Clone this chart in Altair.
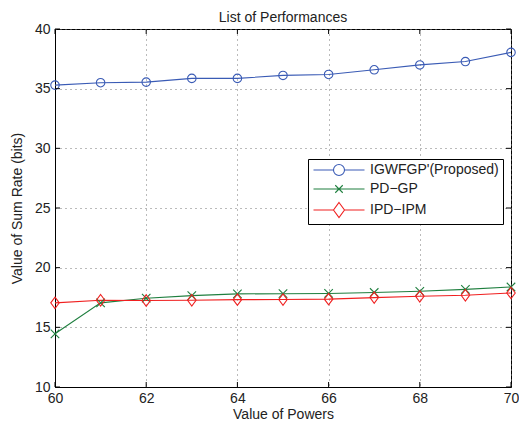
import altair as alt
import pandas as pd

powers = [60, 61, 62, 63, 64, 65, 66, 67, 68, 69, 70]
igwfgp = [35.30, 35.50, 35.55, 35.86, 35.86, 36.11, 36.19, 36.58, 36.99, 37.27, 38.04]
pdgp = [14.46, 17.05, 17.44, 17.66, 17.80, 17.82, 17.84, 17.92, 18.02, 18.18, 18.38]
ipdipm = [17.05, 17.27, 17.25, 17.27, 17.32, 17.33, 17.36, 17.49, 17.60, 17.69, 17.88]

series_names = ["IGWFGP'(Proposed)", "PD\u2212GP", "IPD\u2212IPM"]
series_colors = ["#3a5bb5", "#1f7f3f", "#f02020"]
x_ticks = [60, 62, 64, 66, 68, 70]
y_ticks = [10, 15, 20, 25, 30, 35, 40]

rows = []
for name, vals in zip(series_names, [igwfgp, pdgp, ipdipm]):
    for p, v in zip(powers, vals):
        rows.append({"series": name, "power": p, "rate": v})
df = pd.DataFrame(rows)

W, H = 456, 358
FONT = "Liberation Sans"

marker_paths = [
    "circle",
    "M-1,-1L1,1M-1,1L1,-1",
    "M0,-1.35L1,0L0,1.35L-1,0Z",
]
legend_paths = [
    "M-5.1,0L-1.1,0M1.1,0L5.1,0M1.1,0A1.1,1.1,0,1,1,-1.1,0A1.1,1.1,0,1,1,1.1,0",
    "M-5.1,0L5.1,0M-0.75,-0.75L0.75,0.75M-0.75,0.75L0.75,-0.75",
    "M-5.1,0L-1.1,0M1.1,0L5.1,0M0,-1.5L1.1,0L0,1.5L-1.1,0Z",
]

xscale = alt.Scale(domain=[60, 70], nice=False)
yscale = alt.Scale(domain=[10, 40], nice=False)
cscale = alt.Scale(domain=series_names, range=series_colors)

xax = alt.Axis(values=x_ticks, title="Value of Powers", grid=True, gridDash=[1, 4],
               gridColor="#777", tickSize=0, labelPadding=4, labelFlush=False,
               labelOverlap=False, titleY=31, titleBaseline="alphabetic",
               domainColor="black")
yax = alt.Axis(values=y_ticks, title="Value of Sum Rate (bits)", grid=True, gridDash=[1, 4],
               gridColor="#777", tickSize=0, labelPadding=5, titlePadding=10,
               labelFlush=False, labelOverlap=False, domainColor="black")

base = alt.Chart(df)

lines = base.mark_line(strokeWidth=1.1).encode(
    x=alt.X("power:Q", scale=xscale, axis=xax),
    y=alt.Y("rate:Q", scale=yscale, axis=yax),
    color=alt.Color("series:N", scale=cscale, legend=None),
    detail="series:N",
)

points = base.mark_point(filled=False, strokeWidth=1.1, size=72, opacity=1).encode(
    x=alt.X("power:Q", scale=xscale),
    y=alt.Y("rate:Q", scale=yscale),
    color=alt.Color("series:N", scale=cscale, legend=None),
    shape=alt.Shape("series:N", scale=alt.Scale(domain=series_names, range=marker_paths), legend=None),
)

legend_layer = base.transform_filter("false").mark_point(filled=False, strokeWidth=1.1, size=64, opacity=1).encode(
    x=alt.X("power:Q", scale=xscale),
    y=alt.Y("rate:Q", scale=yscale),
    color=alt.Color("series:N", scale=alt.Scale(domain=series_names, range=series_colors),
                    legend=alt.Legend(title=None, orient="none", legendX=253, legendY=130)),
    shape=alt.Shape("series:N", scale=alt.Scale(domain=series_names, range=legend_paths),
                    legend=alt.Legend(title=None, orient="none", legendX=253, legendY=130)),
)

xt = pd.DataFrame({"t": x_ticks})
yt = pd.DataFrame({"t": y_ticks})
tick_len = 5
xticks_bottom = alt.Chart(xt).mark_rule(color="black", strokeWidth=1).encode(
    x=alt.X("t:Q", scale=xscale), y=alt.value(H), y2=alt.value(H - tick_len))
xticks_top = alt.Chart(xt).mark_rule(color="black", strokeWidth=1).encode(
    x=alt.X("t:Q", scale=xscale), y=alt.value(0), y2=alt.value(tick_len))
yticks_left = alt.Chart(yt).mark_rule(color="black", strokeWidth=1).encode(
    y=alt.Y("t:Q", scale=yscale), x=alt.value(0), x2=alt.value(tick_len))
yticks_right = alt.Chart(yt).mark_rule(color="black", strokeWidth=1).encode(
    y=alt.Y("t:Q", scale=yscale), x=alt.value(W), x2=alt.value(W - tick_len))

chart = alt.layer(
    lines, points, legend_layer, xticks_bottom, xticks_top, yticks_left, yticks_right
).resolve_scale(
    shape="independent", color="independent"
).properties(
    width=W, height=H,
    title=alt.TitleParams("List of Performances", fontSize=14, fontWeight="normal",
                          font=FONT, color="#222", offset=0, dy=3),
    autosize=alt.AutoSizeParams(type="none"),
    padding={"left": 47, "top": 21, "right": 8, "bottom": 33},
).configure_view(
    stroke="black", strokeWidth=1
).configure_axis(
    labelFont=FONT, titleFont=FONT, labelFontSize=14,
    titleFontSize=14, titleFontWeight="normal", labelColor="#222", titleColor="#222",
    domainWidth=1,
).configure_legend(
    labelFont=FONT, labelFontSize=14, labelColor="#222",
    strokeColor="black", fillColor="white", padding=4, symbolOffset=20,
    labelOffset=24, rowPadding=4, symbolStrokeWidth=1.1, cornerRadius=0,
)

chart.save("out.html", embed_options={"renderer": "svg", "actions": False})
